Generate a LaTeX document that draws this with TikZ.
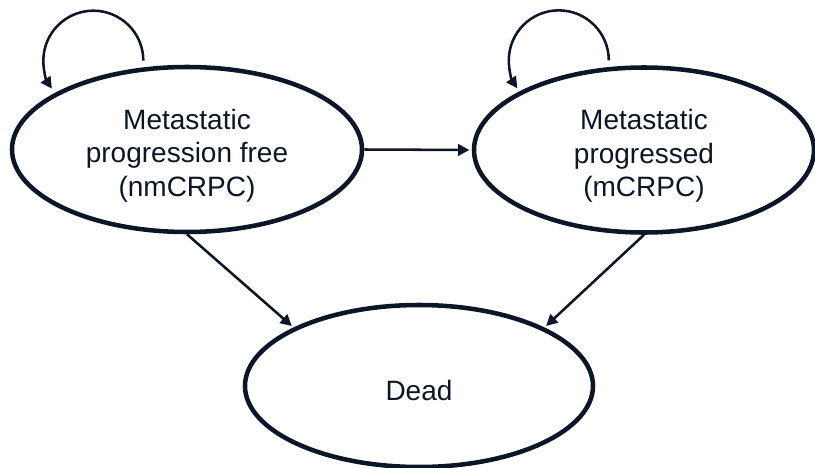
\documentclass[tikz,border=0pt]{standalone}
\usepackage{fontspec}
\setmainfont{Liberation Sans}
\usetikzlibrary{shapes.geometric,arrows.meta}
\definecolor{navy}{RGB}{12,22,40}
\begin{document}
\begin{tikzpicture}[x=0.75pt,y=-0.75pt,
  state/.style={ellipse,draw=navy,line width=3.4pt,inner sep=0pt},
  lbl/.style={text=navy,font=\fontsize{21}{25}\selectfont,align=center},
  link/.style={draw=navy,line width=1.9pt,-{Triangle[length=8.5pt,width=8.5pt]}}]
\useasboundingbox (0,0) rectangle (815,468);
\node[state,minimum width=262.5pt,minimum height=123.75pt] (nm) at (187,149.5) {};
\node[state,minimum width=255pt,minimum height=123.75pt] (m) at (644,150) {};
\node[state,minimum width=261pt,minimum height=121.5pt] (dead) at (419,386) {};
\node[lbl] (tnm) at ([yshift=-4.5pt]nm.center) {Metastatic\\progression free\\(nmCRPC)};
\node[lbl] (tm) at ([yshift=-4.5pt]m.center) {Metastatic\\progressed\\(mCRPC)};
\node[lbl] (tdead) at ([yshift=-3pt]dead.center) {Dead};
\draw[link,shorten >=1.7pt] (nm.east) -- (m.west);
\draw[link,shorten >=1.7pt] (nm.south) -- (dead.155);
\draw[link,shorten >=1.7pt] (m.south) -- (dead.25);
\draw[link] ([yshift=5pt]nm.118) arc[start angle=0,end angle=214,radius=37.5pt];
\draw[link] ([yshift=5pt]m.113) arc[start angle=0,end angle=214,radius=37.5pt];
\end{tikzpicture}
\end{document}
